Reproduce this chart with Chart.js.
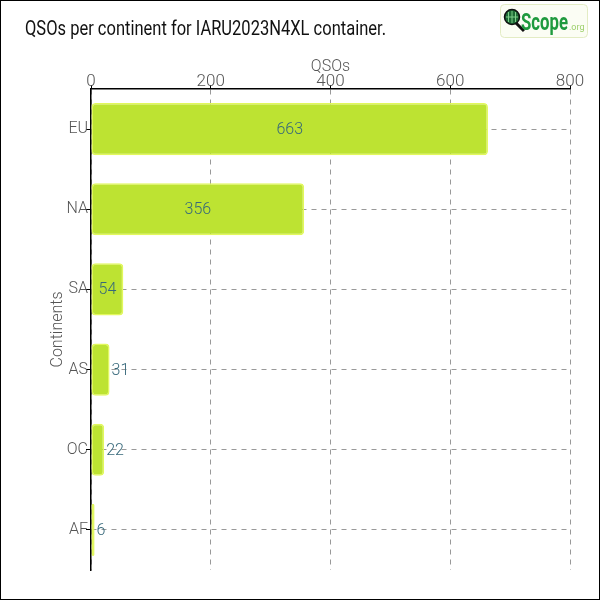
<!DOCTYPE html>
<html>
<head>
<meta charset="utf-8">
<script src="https://cdn.jsdelivr.net/npm/chart.js@4"></script>
<style>
  html, body { margin: 0; padding: 0; background: #fff; }
  #wrap { position: relative; width: 600px; height: 600px; }
</style>
</head>
<body>
<div id="wrap"><canvas id="myChart" width="600" height="600"></canvas></div>
<script>
const continents = ['EU', 'NA', 'SA', 'AS', 'OC', 'AF']
const qsos = [663, 356, 54, 31, 22, 6]
const xTicks = [0, 200, 400, 600, 800]

const titleText = 'QSOs per continent for IARU2023N4XL container.'
const labelFont = 'Roboto, "Open Sans", sans-serif'

// draws text squeezed to a given width
function narrowText(ctx, txt, x, y, width) {
    const w = ctx.measureText(txt).width
    ctx.save()
    ctx.translate(x, y)
    ctx.scale(width / w, 1)
    ctx.fillText(txt, 0, 0)
    ctx.restore()
}

// frame, title and logo
const decor = {
    id: 'decor',
    beforeDraw(chart) {
        const ctx = chart.ctx
        ctx.save()
        ctx.fillStyle = '#fff'
        ctx.fillRect(0, 0, chart.width, chart.height)
        ctx.restore()
    },
    afterDraw(chart) {
        const ctx = chart.ctx
        ctx.save()
        ctx.strokeStyle = '#000'
        ctx.lineWidth = 1
        ctx.strokeRect(0.5, 0.5, chart.width - 1, chart.height - 1)

        ctx.fillStyle = '#111'
        ctx.font = '20px ' + labelFont
        ctx.textBaseline = 'alphabetic'
        narrowText(ctx, titleText, 25, 35, 361)

        // logo box
        ctx.beginPath()
        ctx.roundRect(500.5, 4.5, 87, 33, 4)
        ctx.fillStyle = '#fbfdf4'
        ctx.fill()
        ctx.strokeStyle = '#e3ecc4'
        ctx.lineWidth = 1
        ctx.stroke()
        // magnifier handle
        ctx.beginPath()
        ctx.moveTo(515, 22)
        ctx.lineTo(524, 31)
        ctx.strokeStyle = '#111'
        ctx.lineWidth = 3
        ctx.stroke()
        // globe
        ctx.beginPath()
        ctx.arc(512, 17, 7.5, 0, Math.PI * 2)
        ctx.fillStyle = '#1d6b35'
        ctx.fill()
        ctx.lineWidth = 1.5
        ctx.strokeStyle = '#111'
        ctx.stroke()
        ctx.strokeStyle = '#7fcf8a'
        ctx.lineWidth = 1
        ctx.beginPath()
        ctx.moveTo(506, 17); ctx.lineTo(518, 17)
        ctx.moveTo(512, 11); ctx.lineTo(512, 23)
        ctx.moveTo(508.5, 12); ctx.lineTo(508.5, 22)
        ctx.moveTo(515.5, 12); ctx.lineTo(515.5, 22)
        ctx.stroke()

        ctx.fillStyle = '#1f9a3e'
        ctx.font = 'bold 23px ' + labelFont
        narrowText(ctx, 'Scope', 521, 30, 47)
        ctx.fillStyle = '#9ccf6a'
        ctx.font = '9px ' + labelFont
        ctx.fillText('.org', 569, 30)
        ctx.restore()
    }
}

// value labels: centred when they fit, otherwise just past the bar end
const valueLabels = {
    id: 'valueLabels',
    afterDatasetsDraw(chart) {
        const ctx = chart.ctx
        const meta = chart.getDatasetMeta(0)
        ctx.save()
        ctx.font = '300 16px ' + labelFont
        ctx.fillStyle = '#36687a'
        ctx.textBaseline = 'middle'
        meta.data.forEach((bar, i) => {
            const txt = String(qsos[i])
            const w = ctx.measureText(txt).width
            const barW = bar.x - bar.base
            if (w + 8 < barW) {
                ctx.textAlign = 'center'
                ctx.fillText(txt, (bar.x + bar.base) / 2, bar.y + 1)
            } else {
                ctx.textAlign = 'left'
                ctx.fillText(txt, bar.x + 2, bar.y + 1)
            }
        })
        ctx.restore()
    }
}

const data = {
    labels: continents,
    datasets: [{
        label: 'QSOs',
        data: qsos,
        backgroundColor: '#bde332',
        borderColor: '#e2f85c',
        borderWidth: 1.5,
        borderRadius: 4,
        borderSkipped: false,
        categoryPercentage: 1,
        barPercentage: 0.65
    }]
}

const config = {
    type: 'bar',
    data: data,
    options: {
        indexAxis: 'y',
        responsive: false,
        animation: false,
        layout: { padding: { top: 57, left: 48, right: 30, bottom: 30 } },
        plugins: {
            legend: { display: false },
            tooltip: { enabled: false }
        },
        scales: {
            x: {
                position: 'top',
                min: 0,
                max: 800,
                afterBuildTicks: (scale) => { scale.ticks = xTicks.map(v => ({ value: v })) },
                afterFit: (scale) => { scale.height = 32 },
                title: {
                    display: true,
                    text: 'QSOs',
                    color: '#555',
                    font: { family: labelFont, size: 16, weight: 300 },
                    padding: 0
                },
                ticks: { color: '#555', font: { family: labelFont, size: 17, weight: 300 }, padding: -7 },
                grid: {
                    color: '#999',
                    tickColor: '#000',
                    tickBorderDash: [],
                    tickLength: 4
                },
                border: { display: true, color: '#000', width: 1.5, dash: [5, 5] }
            },
            y: {
                afterFit: (scale) => { scale.width = 43 },
                title: {
                    display: true,
                    text: 'Continents',
                    color: '#555',
                    font: { family: labelFont, size: 16, weight: 300 },
                    padding: 0
                },
                ticks: { color: '#555', font: { family: labelFont, size: 16, weight: 300 }, padding: -2 },
                grid: {
                    offset: false,
                    color: '#999',
                    tickColor: '#000',
                    tickBorderDash: [],
                    tickLength: 5
                },
                border: { display: true, color: '#000', width: 1.5, dash: [5, 5] }
            }
        }
    },
    plugins: [decor, valueLabels]
}

const myChart = new Chart(document.getElementById('myChart'), config)
</script>
</body>
</html>
